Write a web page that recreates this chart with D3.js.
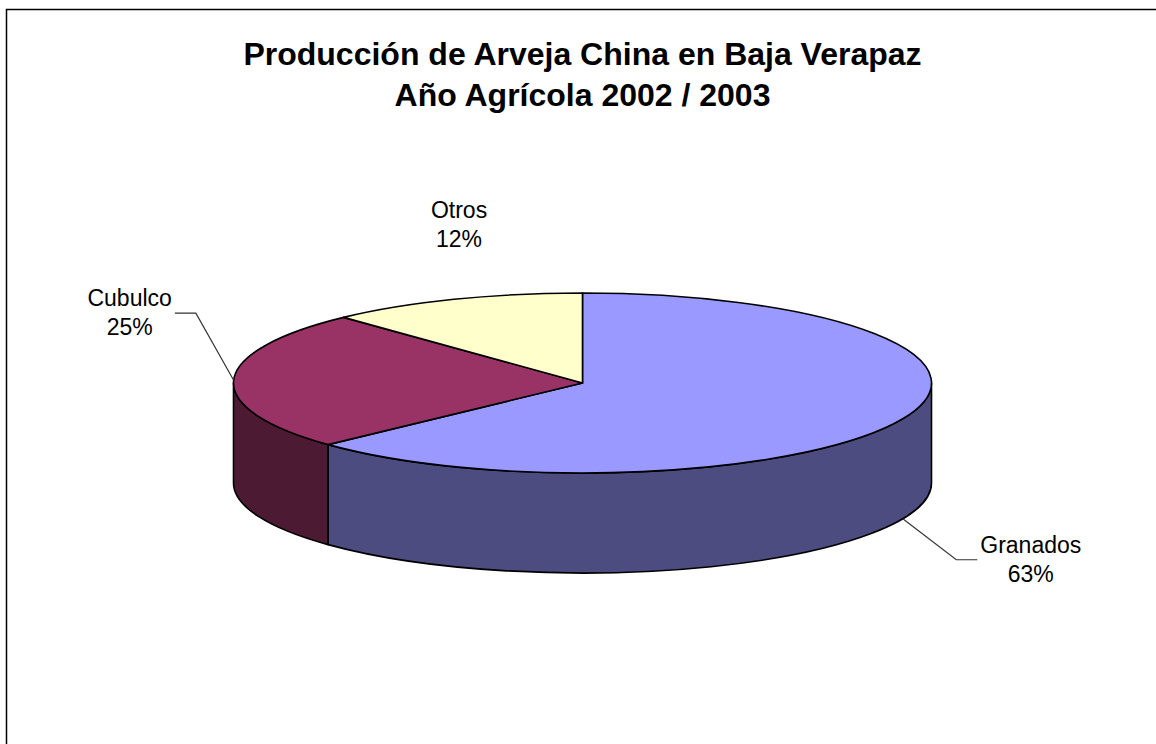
<!DOCTYPE html>
<html>
<head>
<meta charset="utf-8">
<script src="https://cdn.jsdelivr.net/npm/d3@7"></script>
<style>
  body { margin: 0; background: #fff; }
  svg { display: block; }
</style>
</head>
<body>
<svg id="chart" width="1156" height="744"></svg>
<script>
// data
const regions = ["Granados", "Cubulco", "Otros"]
const shares = [63, 25, 12]
const titleLines = ["Producción de Arveja China en Baja Verapaz", "Año Agrícola 2002 / 2003"]

// looks
const topColors = ["#9999FF", "#993366", "#FFFFCC"]
const sideColors = ["#4C4C80", "#4D1A33", "#80806A"]
// label placement relative to the slice anchor (first baseline), and leader flag
const labelOffsets = [[128, 34], [-104, -74], [5, -81]]
const hasLeader = [true, true, false]

const W = 1156, H = 744
const cx = 582.5, cy = 383, rx = 349, ry = 90, depth = 100

const svg = d3.select("#chart")

// chart area border (runs off the right and bottom edge)
svg.append("rect")
  .attr("x", 6.5).attr("y", 9.5)
  .attr("width", 1300).attr("height", 900)
  .attr("fill", "#fff")
  .attr("stroke", "#000")
  .attr("stroke-width", 1.5)

svg.append("g")
  .selectAll("text")
  .data(titleLines)
  .join("text")
  .attr("x", cx)
  .attr("y", (d, i) => 65 + i * 41)
  .attr("text-anchor", "middle")
  .attr("font-family", "'Liberation Sans', Arial, sans-serif")
  .attr("font-weight", "bold")
  .attr("font-size", 32)
  .attr("fill", "#000")
  .text(d => d)

const data = regions.map((r, i) => ({ name: r, value: shares[i], i }))
const arcs = d3.pie().sort(null).value(d => d.value)(data)

// point on the ellipse, angle 0 at 12 o'clock going clockwise
const pt = (a, dy = 0) => [cx + rx * Math.sin(a), cy - ry * Math.cos(a) + dy]

const sidePath = (a0, a1) => {
  const s0 = Math.max(a0, Math.PI / 2), s1 = Math.min(a1, Math.PI * 1.5)
  if (s1 <= s0) return null
  const p0 = pt(s0), p1 = pt(s1), q1 = pt(s1, depth), q0 = pt(s0, depth)
  return `M${p0}A${rx},${ry} 0 0 1 ${p1}L${q1}A${rx},${ry} 0 0 0 ${q0}Z`
}

const topPath = d => {
  const p0 = pt(d.startAngle), p1 = pt(d.endAngle)
  const large = d.endAngle - d.startAngle > Math.PI ? 1 : 0
  return `M${cx},${cy}L${p0}A${rx},${ry} 0 ${large} 1 ${p1}Z`
}

const pie = svg.append("g")

pie.append("g")
  .selectAll("path")
  .data(arcs.filter(d => sidePath(d.startAngle, d.endAngle)))
  .join("path")
  .attr("d", d => sidePath(d.startAngle, d.endAngle))
  .attr("fill", d => sideColors[d.data.i])
  .attr("stroke", "#000")
  .attr("stroke-width", 1.6)
  .attr("stroke-linejoin", "round")

pie.append("g")
  .selectAll("path")
  .data(arcs)
  .join("path")
  .attr("d", topPath)
  .attr("fill", d => topColors[d.data.i])
  .attr("stroke", "#000")
  .attr("stroke-width", 1.6)
  .attr("stroke-linejoin", "round")

// labels
const anchorOf = d => {
  const m = (d.startAngle + d.endAngle) / 2
  const front = Math.cos(m) < 0
  return pt(m, front ? depth : 0)
}

const labels = svg.append("g")
  .attr("font-family", "'Liberation Sans', Arial, sans-serif")
  .attr("font-size", 23)
  .attr("fill", "#000")

arcs.forEach(d => {
  const [ax, ay] = anchorOf(d)
  const [dx, dy] = labelOffsets[d.data.i]
  const lx = ax + dx, ly = ay + dy
  const t = labels.append("text")
    .attr("x", lx).attr("y", ly)
    .attr("text-anchor", "middle")
  t.append("tspan").attr("x", lx).attr("dy", 0).text(d.data.name)
  t.append("tspan").attr("x", lx).attr("dy", 29).text(d.data.value + "%")

  if (hasLeader[d.data.i]) {
    const half = t.node().getBBox().width / 2
    const side = dx > 0 ? -1 : 1
    const edge = lx + side * (half + 3)
    const elbow = [edge + side * 21, ly + 7]
    svg.append("path")
      .attr("d", d3.line()([[ax, ay], elbow, [edge, ly + 7]]))
      .attr("fill", "none")
      .attr("stroke", "#333")
      .attr("stroke-width", 1.2)
  }
})
</script>
</body>
</html>
